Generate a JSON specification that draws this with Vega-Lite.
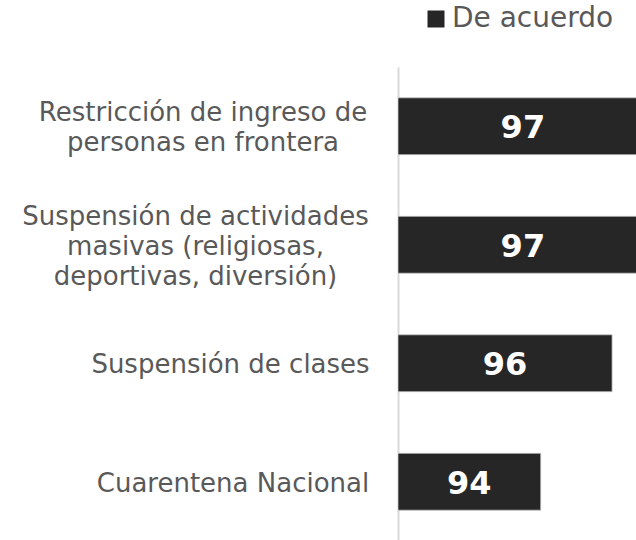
{
  "$schema": "https://vega.github.io/schema/vega-lite/v6.json",
  "autosize": {"type": "none"},
  "width": 238,
  "height": 474,
  "padding": {"left": 398, "top": 67, "right": 0, "bottom": 0},
  "background": "white",
  "config": {"view": {"stroke": null}, "font": "DejaVu Sans"},
  "data": {
    "values": [
      {"categoria": "Restricción de ingreso de personas en frontera", "valor": 97, "serie": "De acuerdo"},
      {"categoria": "Suspensión de actividades masivas (religiosas, deportivas, diversión)", "valor": 97, "serie": "De acuerdo"},
      {"categoria": "Suspensión de clases", "valor": 96, "serie": "De acuerdo"},
      {"categoria": "Cuarentena Nacional", "valor": 94, "serie": "De acuerdo"}
    ]
  },
  "transform": [
    {"calculate": "(90 + datum.valor) / 2", "as": "medio"}
  ],
  "encoding": {
    "y": {
      "field": "categoria",
      "type": "nominal",
      "sort": null,
      "scale": {"paddingInner": 0.52, "paddingOuter": 0.26},
      "axis": {
        "title": null,
        "ticks": false,
        "tickSize": 0,
        "labelPadding": 0,
        "labelAlign": "center",
        "labelBaseline": "middle",
        "labelFont": "DejaVu Sans",
        "labelFontSize": 26,
        "labelLineHeight": 30,
        "labelColor": "#595959",
        "labelLimit": 600,
        "domainColor": "#d9d9d9",
        "domainWidth": 2,
        "labelExpr": "datum.value == 'Restricción de ingreso de personas en frontera' ? ['Restricción de ingreso de', 'personas en frontera'] : datum.value == 'Suspensión de actividades masivas (religiosas, deportivas, diversión)' ? ['Suspensión de actividades', 'masivas (religiosas,', 'deportivas, diversión)'] : datum.value",
        "encoding": {
          "labels": {
            "dx": {
              "condition": [
                {"test": "datum.value == 'Restricción de ingreso de personas en frontera'", "value": -195.5},
                {"test": "datum.value == 'Suspensión de clases'", "value": -168},
                {"test": "datum.value == 'Cuarentena Nacional'", "value": -165.5}
              ],
              "value": -203
            },
            "dy": {
              "condition": [
                {"test": "datum.value == 'Restricción de ingreso de personas en frontera'", "value": -13},
                {"test": "datum.value == 'Suspensión de actividades masivas (religiosas, deportivas, diversión)'", "value": -28}
              ],
              "value": 2
            }
          }
        }
      }
    }
  },
  "layer": [
    {
      "mark": {"type": "bar", "color": "#262626", "stroke": "#c8c8c8", "strokeWidth": 0.75, "clip": true},
      "encoding": {
        "x": {
          "field": "valor",
          "type": "quantitative",
          "scale": {"domain": [90, 96.67], "zero": false, "nice": false},
          "axis": null
        },
        "x2": {"datum": 90},
        "color": {
          "field": "serie",
          "type": "nominal",
          "scale": {"range": ["#262626"]},
          "legend": {
            "title": null,
            "orient": "none",
            "legendX": 24,
            "legendY": -62,
            "padding": 0,
            "symbolType": "square",
            "symbolSize": 289,
            "symbolStrokeWidth": 0,
            "labelFont": "DejaVu Sans",
            "labelFontSize": 28,
            "labelColor": "#595959",
            "labelOffset": 2,
            "labelLimit": 400
          }
        }
      }
    },
    {
      "mark": {"type": "text", "color": "white", "font": "DejaVu Sans", "fontWeight": "bold", "fontSize": 32, "baseline": "middle", "align": "center", "dy": 2},
      "encoding": {
        "x": {"field": "medio", "type": "quantitative"},
        "text": {"field": "valor", "type": "quantitative"}
      }
    }
  ]
}
